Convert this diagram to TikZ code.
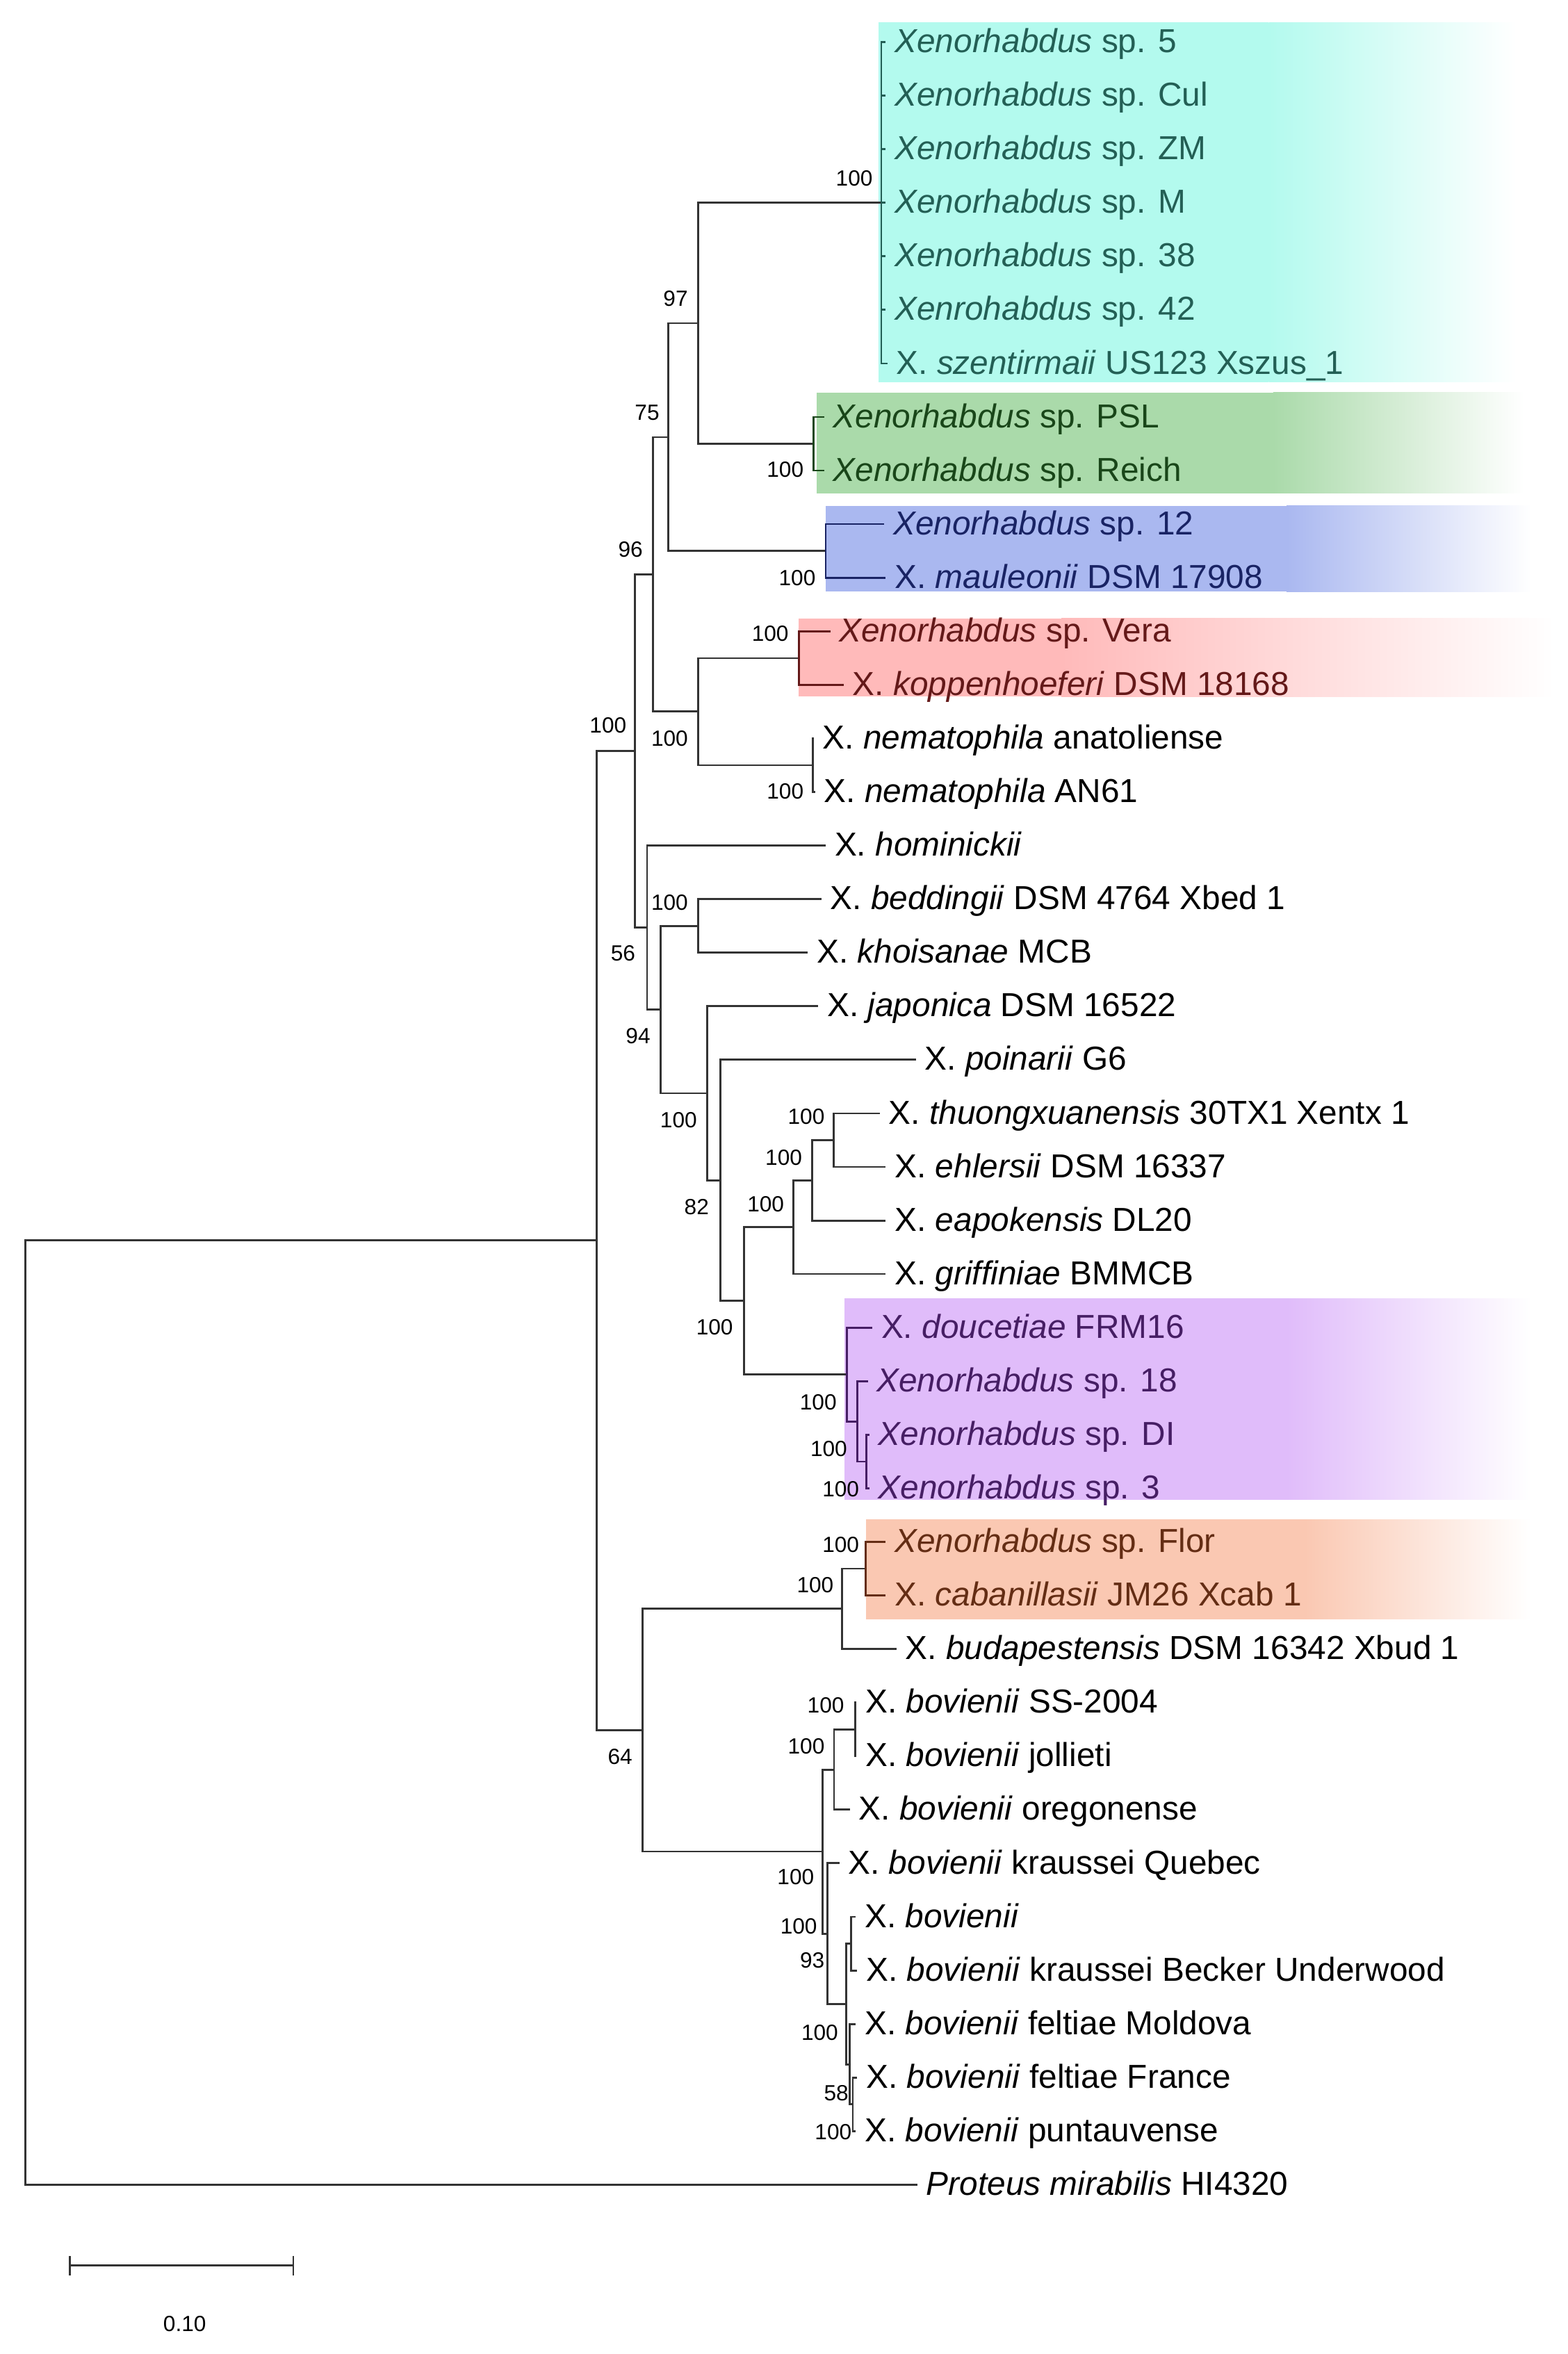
\documentclass[tikz,border=0pt]{standalone}
\usepackage{fontspec}
\setmainfont{Liberation Sans}
\usetikzlibrary{positioning, arrows.meta}

\definecolor{cyanbox}{RGB}{179,250,238}
\definecolor{cyantext}{RGB}{35,95,85}
\definecolor{greenbox}{RGB}{170,218,170}
\definecolor{greentext}{RGB}{25,70,25}
\definecolor{bluebox}{RGB}{170,184,240}
\definecolor{bluetext}{RGB}{25,35,100}
\definecolor{redbox}{RGB}{255,186,186}
\definecolor{redtext}{RGB}{100,25,25}
\definecolor{purplebox}{RGB}{224,188,250}
\definecolor{purpletext}{RGB}{70,30,100}
\definecolor{orangebox}{RGB}{250,200,178}
\definecolor{orangetext}{RGB}{100,45,20}

\tikzset{
    leaf/.style={anchor=west, inner xsep=3.5pt, inner ysep=1pt, text height=0.98em, text depth=0.12em, font=\fontsize{13.6}{16}\selectfont},
    boot/.style={inner sep=0pt, font=\fontsize{9}{11}\selectfont},
    branch/.style={line width=0.8pt, draw=black!80},
}

\begin{document}
\begin{tikzpicture}[x=0.02161cm, y=-0.02161cm]
                \useasboundingbox (0,0) rectangle (1044,1568);
                % clade boxes
                \fill[cyanbox] (585,15) rectangle (845,254.5);
                \shade[left color=cyanbox, right color=white] (845,15) rectangle (1010,254.5);
                \fill[greenbox] (544,261.5) rectangle (848,328.5);
                \shade[left color=greenbox, right color=white] (848,261.5) rectangle (1015,328.5);
                \fill[bluebox] (550,337) rectangle (857,394);
                \shade[left color=bluebox, right color=white] (857,337) rectangle (1020,394);
                \fill[redbox] (531.7,412) rectangle (707,464);
                \shade[left color=redbox, right color=white] (707,412) rectangle (1035,464);
                \fill[purplebox] (562.7,865) rectangle (857,999);
                \shade[left color=purplebox, right color=white] (857,865) rectangle (1020,999);
                \fill[orangebox] (576.6,1012) rectangle (869,1078.5);
                \shade[left color=orangebox, right color=white] (869,1012) rectangle (1020,1078.5);

                % inner nodes
                \coordinate (root) at (17,1140.8);
                \coordinate (r1) at (397.6,826.3);
                \coordinate (n423) at (423,500.2);
                \coordinate (n96) at (435,382.6);
                \coordinate (n75) at (445,291.2);
                \coordinate (n97) at (465,215.3);
                \coordinate (c100) at (587,135.05);
                \coordinate (g100) at (542,295.6);
                \coordinate (b100) at (550,367);
                \coordinate (nrn) at (465,474);
                \coordinate (red100) at (532,438.4);
                \coordinate (nema) at (541.5,509.7);
                \coordinate (n56) at (431,617.9);
                \coordinate (n94) at (440,672.5);
                \coordinate (bk) at (465,616.8);
                \coordinate (jap) at (471,728.2);
                \coordinate (n82) at (480,786.2);
                \coordinate (n495) at (495.4,866.5);
                \coordinate (n528) at (528.5,817.4);
                \coordinate (n541) at (541,786.2);
                \coordinate (n555) at (555.3,759.5);
                \coordinate (pu1) at (564,915.6);
                \coordinate (pu2) at (571,946.8);
                \coordinate (pu3) at (577,973.6);
                \coordinate (n64) at (428,1152.5);
                \coordinate (n561) at (561,1071.6);
                \coordinate (or100) at (576.6,1044.9);
                \coordinate (bov) at (548,1233.3);
                \coordinate (bovA) at (555.5,1178.7);
                \coordinate (bovSJ) at (569.7,1152);
                \coordinate (bovQ) at (551,1288);
                \coordinate (n93) at (563.6,1334.8);
                \coordinate (bovBB) at (567,1294.7);
                \coordinate (bovM) at (566,1375);
                \coordinate (bovFP) at (568,1401.7);

                % leaves
                \node[leaf, text=cyantext] (x5) at (590,28) {\textit{Xenorhabdus} sp. 5};
                \node[leaf, text=cyantext] (xcul) at (590,63.7) {\textit{Xenorhabdus} sp. Cul};
                \node[leaf, text=cyantext] (xzm) at (590,99.4) {\textit{Xenorhabdus} sp. ZM};
                \node[leaf, text=cyantext] (xm) at (590,135) {\textit{Xenorhabdus} sp. M};
                \node[leaf, text=cyantext] (x38) at (590,170.7) {\textit{Xenorhabdus} sp. 38};
                \node[leaf, text=cyantext] (x42) at (590,206.4) {\textit{Xenrohabdus} sp. 42};
                \node[leaf, text=cyantext] (szent) at (591,242.1) {X. \textit{szentirmaii} US123 Xszus\_1};
                \node[leaf, text=greentext] (psl) at (549,277.8) {\textit{Xenorhabdus} sp. PSL};
                \node[leaf, text=greentext] (reich) at (549,313.4) {\textit{Xenorhabdus} sp. Reich};
                \node[leaf, text=bluetext] (x12) at (589,349.1) {\textit{Xenorhabdus} sp. 12};
                \node[leaf, text=bluetext] (maul) at (590,384.8) {X. \textit{mauleonii} DSM 17908};
                \node[leaf, text=redtext] (vera) at (553,420.5) {\textit{Xenorhabdus} sp. Vera};
                \node[leaf, text=redtext] (kopp) at (562,456.2) {X. \textit{koppenhoeferi} DSM 18168};
                \node[leaf] (nanat) at (542,491.8) {X. \textit{nematophila} anatoliense};
                \node[leaf] (nan61) at (543,527.5) {X. \textit{nematophila} AN61};
                \node[leaf] (homi) at (550,563.2) {X. \textit{hominickii}};
                \node[leaf] (bedd) at (547,598.9) {X. \textit{beddingii} DSM 4764 Xbed 1};
                \node[leaf] (khoi) at (538,634.6) {X. \textit{khoisanae} MCB};
                \node[leaf] (japo) at (545,670.2) {X. \textit{japonica} DSM 16522};
                \node[leaf] (poin) at (610,705.9) {X. \textit{poinarii} G6};
                \node[leaf] (thuo) at (586,741.6) {X. \textit{thuongxuanensis} 30TX1 Xentx 1};
                \node[leaf] (ehle) at (590,777.3) {X. \textit{ehlersii} DSM 16337};
                \node[leaf] (eapo) at (590,813) {X. \textit{eapokensis} DL20};
                \node[leaf] (grif) at (590,848.6) {X. \textit{griffiniae} BMMCB};
                \node[leaf, text=purpletext] (douc) at (581,884.3) {X. \textit{doucetiae} FRM16};
                \node[leaf, text=purpletext] (x18) at (578,920) {\textit{Xenorhabdus} sp. 18};
                \node[leaf, text=purpletext] (xdi) at (579,955.7) {\textit{Xenorhabdus} sp. DI};
                \node[leaf, text=purpletext] (x3) at (579,991.4) {\textit{Xenorhabdus} sp. 3};
                \node[leaf, text=orangetext] (flor) at (590,1027) {\textit{Xenorhabdus} sp. Flor};
                \node[leaf, text=orangetext] (caba) at (590,1062.7) {X. \textit{cabanillasii} JM26 Xcab 1};
                \node[leaf] (buda) at (597,1098.4) {X. \textit{budapestensis} DSM 16342 Xbud 1};
                \node[leaf] (ss) at (570.5,1134.1) {X. \textit{bovienii} SS-2004};
                \node[leaf] (joll) at (570.5,1169.8) {X. \textit{bovienii} jollieti};
                \node[leaf] (oreg) at (566,1205.4) {X. \textit{bovienii} oregonense};
                \node[leaf] (queb) at (559,1241.1) {X. \textit{bovienii} kraussei Quebec};
                \node[leaf] (bovi) at (570,1276.8) {X. \textit{bovienii}};
                \node[leaf] (beck) at (571,1312.5) {X. \textit{bovienii} kraussei Becker Underwood};
                \node[leaf] (mold) at (570,1348.2) {X. \textit{bovienii} feltiae Moldova};
                \node[leaf] (fran) at (571,1383.8) {X. \textit{bovienii} feltiae France};
                \node[leaf] (punt) at (570,1419.5) {X. \textit{bovienii} puntauvense};
                \node[leaf] (prot) at (611,1455.2) {\textit{Proteus mirabilis} HI4320};

                % branches
                \draw[branch] (root) |- (r1);
                \draw[branch] (root) |- (prot);
                \draw[branch] (r1) |- (n423);
                \draw[branch] (r1) |- (n64);
                \draw[branch] (n423) |- (n96);
                \draw[branch] (n423) |- (n56);
                \draw[branch] (n96) |- (n75);
                \draw[branch] (n96) |- (nrn);
                \draw[branch] (n75) |- (n97);
                \draw[branch] (n75) |- (b100);
                \draw[branch] (n97) |- (c100);
                \draw[branch] (n97) |- (g100);
                \draw[branch, draw=cyantext] (c100) |- (x5);
                \draw[branch, draw=cyantext] (c100) |- (xcul);
                \draw[branch, draw=cyantext] (c100) |- (xzm);
                \draw[branch, draw=cyantext] (c100) |- (xm);
                \draw[branch, draw=cyantext] (c100) |- (x38);
                \draw[branch, draw=cyantext] (c100) |- (x42);
                \draw[branch, draw=cyantext] (c100) |- (szent);
                \draw[branch, draw=greentext] (g100) |- (psl);
                \draw[branch, draw=greentext] (g100) |- (reich);
                \draw[branch, draw=bluetext] (b100) |- (x12);
                \draw[branch, draw=bluetext] (b100) |- (maul);
                \draw[branch] (nrn) |- (red100);
                \draw[branch] (nrn) |- (nema);
                \draw[branch, draw=redtext] (red100) |- (vera);
                \draw[branch, draw=redtext] (red100) |- (kopp);
                \draw[branch] (nema) |- (nanat);
                \draw[branch] (nema) |- (nan61);
                \draw[branch] (n56) |- (homi);
                \draw[branch] (n56) |- (n94);
                \draw[branch] (n94) |- (bk);
                \draw[branch] (n94) |- (jap);
                \draw[branch] (bk) |- (bedd);
                \draw[branch] (bk) |- (khoi);
                \draw[branch] (jap) |- (japo);
                \draw[branch] (jap) |- (n82);
                \draw[branch] (n82) |- (poin);
                \draw[branch] (n82) |- (n495);
                \draw[branch] (n495) |- (n528);
                \draw[branch] (n495) |- (pu1);
                \draw[branch] (n528) |- (n541);
                \draw[branch] (n528) |- (grif);
                \draw[branch] (n541) |- (n555);
                \draw[branch] (n541) |- (eapo);
                \draw[branch] (n555) |- (thuo);
                \draw[branch] (n555) |- (ehle);
                \draw[branch, draw=purpletext] (pu1) |- (douc);
                \draw[branch, draw=purpletext] (pu1) |- (pu2);
                \draw[branch, draw=purpletext] (pu2) |- (x18);
                \draw[branch, draw=purpletext] (pu2) |- (pu3);
                \draw[branch, draw=purpletext] (pu3) |- (xdi);
                \draw[branch, draw=purpletext] (pu3) |- (x3);
                \draw[branch] (n64) |- (n561);
                \draw[branch] (n64) |- (bov);
                \draw[branch] (n561) |- (or100);
                \draw[branch] (n561) |- (buda);
                \draw[branch, draw=orangetext] (or100) |- (flor);
                \draw[branch, draw=orangetext] (or100) |- (caba);
                \draw[branch] (bov) |- (bovA);
                \draw[branch] (bov) |- (bovQ);
                \draw[branch] (bovA) |- (bovSJ);
                \draw[branch] (bovA) |- (oreg);
                \draw[branch] (bovSJ) |- (ss);
                \draw[branch] (bovSJ) |- (joll);
                \draw[branch] (bovQ) |- (queb);
                \draw[branch] (bovQ) |- (n93);
                \draw[branch] (n93) |- (bovBB);
                \draw[branch] (n93) |- (bovM);
                \draw[branch] (bovBB) |- (bovi);
                \draw[branch] (bovBB) |- (beck);
                \draw[branch] (bovM) |- (mold);
                \draw[branch] (bovM) |- (bovFP);
                \draw[branch] (bovFP) |- (fran);
                \draw[branch] (bovFP) |- (punt);

                % bootstrap values
                \node[boot] (bs1) at (569,119) {100};
                \node[boot] (bs2) at (450,199) {97};
                \node[boot] (bs3) at (431,275) {75};
                \node[boot] (bs4) at (523,313) {100};
                \node[boot] (bs5) at (420,366) {96};
                \node[boot] (bs6) at (531,385) {100};
                \node[boot] (bs7) at (513,422) {100};
                \node[boot] (bs8) at (405,483) {100};
                \node[boot] (bs9) at (446,492) {100};
                \node[boot] (bs10) at (523,527) {100};
                \node[boot] (bs11) at (446,601) {100};
                \node[boot] (bs12) at (415,635) {56};
                \node[boot] (bs13) at (425,690) {94};
                \node[boot] (bs14) at (452,746) {100};
                \node[boot] (bs15) at (537,744) {100};
                \node[boot] (bs16) at (522,771) {100};
                \node[boot] (bs17) at (464,804) {82};
                \node[boot] (bs18) at (510,802) {100};
                \node[boot] (bs19) at (476,884) {100};
                \node[boot] (bs20) at (545,934) {100};
                \node[boot] (bs21) at (552,965) {100};
                \node[boot] (bs22) at (560,992) {100};
                \node[boot] (bs23) at (560,1029) {100};
                \node[boot] (bs24) at (543,1056) {100};
                \node[boot] (bs25) at (550,1136) {100};
                \node[boot] (bs26) at (537,1163) {100};
                \node[boot] (bs27) at (413,1170) {64};
                \node[boot] (bs28) at (530,1250) {100};
                \node[boot] (bs29) at (532,1283) {100};
                \node[boot] (bs30) at (541,1306) {93};
                \node[boot] (bs31) at (546,1354) {100};
                \node[boot] (bs32) at (557,1394) {58};
                \node[boot] (bs33) at (555,1420) {100};

                % scale bar
                \coordinate (sbl) at (46,1509);
                \coordinate (sbr) at (196,1509);
                \draw[branch, {Bar[width=8pt]}-{Bar[width=8pt]}] (sbl) -- (sbr);
                \node[boot] (sbtext) at (123,1548) {0.10};
            \end{tikzpicture}
\end{document}
